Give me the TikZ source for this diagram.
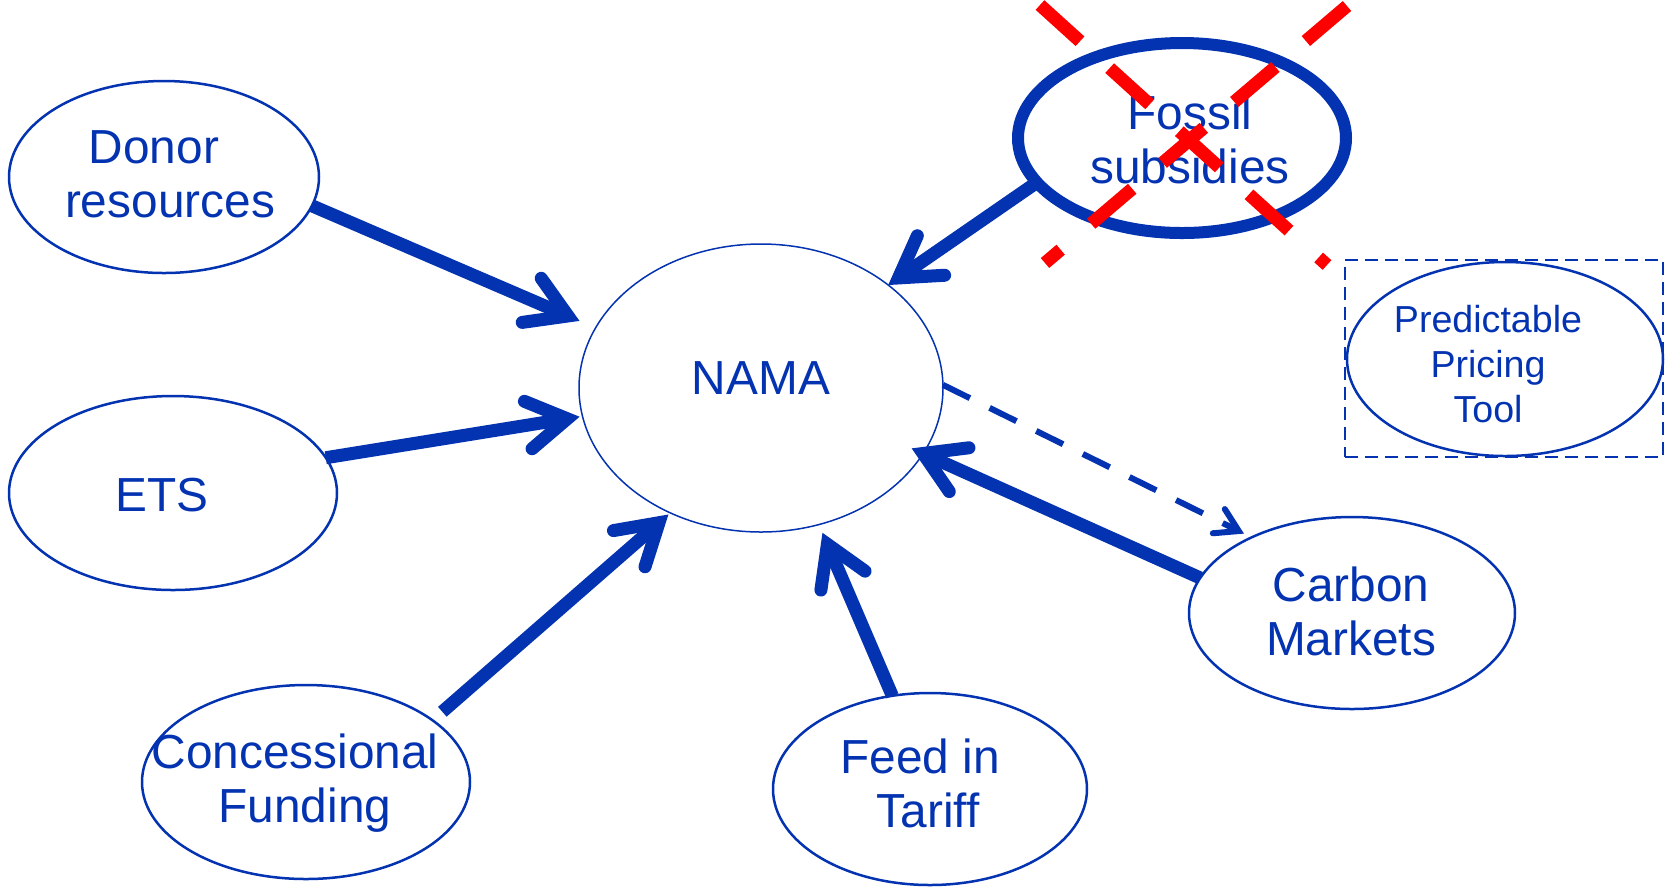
\documentclass[tikz,border=0pt]{standalone}
\usepackage{fontspec}
\setmainfont{Liberation Sans}
\usetikzlibrary{arrows.meta,shapes.geometric}
\definecolor{navy}{HTML}{0433B1}
\definecolor{cross}{HTML}{FF0000}

% open arrow heads with uniform thick barbs, rounded barb ends and a sharp tip
\pgfdeclarearrow{
  name = Bold Barb,
  parameters = {bold},
  setup code = {
    \pgfarrowssettipend{1.25mm}
    \pgfarrowssetlineend{-0.2mm}
    \pgfarrowssetbackend{-4.6mm}
  },
  drawing code = {
    \pgfsetdash{}{0pt}
    \pgfsetlinewidth{1.3mm}
    \pgfsetroundcap
    \pgfsetmiterjoin
    \pgfpathmoveto{\pgfpoint{-3.95mm}{2.4mm}}
    \pgfpathlineto{\pgfpointorigin}
    \pgfpathlineto{\pgfpoint{-3.95mm}{-2.4mm}}
    \pgfusepathqstroke
  }
}
\pgfdeclarearrow{
  name = Thin Barb,
  parameters = {thin},
  setup code = {
    \pgfarrowssettipend{0.57mm}
    \pgfarrowssetlineend{-0.1mm}
    \pgfarrowssetbackend{-2.55mm}
  },
  drawing code = {
    \pgfsetdash{}{0pt}
    \pgfsetlinewidth{0.6mm}
    \pgfsetroundcap
    \pgfsetmiterjoin
    \pgfpathmoveto{\pgfpoint{-2.23mm}{1.35mm}}
    \pgfpathlineto{\pgfpointorigin}
    \pgfpathlineto{\pgfpoint{-2.23mm}{-1.35mm}}
    \pgfusepathqstroke
  }
}

\begin{document}
\begin{tikzpicture}[x=0.1mm,y=-0.1mm,
  bubble/.style={draw=navy, line width=0.25mm, ellipse, inner sep=0pt, outer sep=0pt},
  lbl/.style={text=navy, align=center, inner sep=0pt, text depth=0pt,
    font=\fontsize{13.6pt}{15.4pt}\selectfont},
  small/.style={font=\fontsize{10.7pt}{12.8pt}\selectfont},
  push/.style={draw=navy, line width=1.3mm, -{Bold Barb}},
  hint/.style={draw=navy, line width=0.6mm, dash pattern=on 3mm off 2.2mm, -{Thin Barb}},
  strike/.style={draw=cross, line width=1.3mm, dash pattern=on 5.4mm off 4mm}
]
\useasboundingbox (0,0) rectangle (1666,890);

% ellipses
\node[bubble, minimum width=31mm, minimum height=19.2mm] (donor) at (164,177) {};
\node[bubble, minimum width=32.8mm, minimum height=19.4mm] (ets) at (173,493) {};
\node[bubble, minimum width=32.8mm, minimum height=19.4mm] (conc) at (306,782) {};
\node[bubble, minimum width=31.4mm, minimum height=19.2mm] (feed) at (930,789) {};
\node[bubble, minimum width=32.6mm, minimum height=19.2mm] (carbon) at (1352,613) {};
\node[bubble, line width=0.15mm, minimum width=36.4mm, minimum height=28.8mm] (nama) at (761,388) {};
\node[bubble, line width=1.2mm, minimum width=32.8mm, minimum height=19mm] (fossil) at (1182,138) {};
\node[bubble, minimum width=31.6mm, minimum height=19.4mm] (ppt) at (1505,359) {};
\node[draw=navy, line width=0.2mm, dash pattern=on 1.3mm off 0.7mm, inner sep=0pt,
  minimum width=31.8mm, minimum height=19.7mm] (pptbox) at (1504,358.5) {};

% connectors
\draw[push, shorten >=1.76mm] (donor.-11) -- (nama.160);
\draw[push, shorten >=0.3mm] (ets.13) -- (nama.189);
\draw[push, shorten <=1.3mm, shorten >=0.25mm] (conc.26) -- (nama.234);
\draw[push, shorten >=0.9mm] (feed.112) -- (nama.-67);
\draw[push, shorten >=-1.25mm] (carbon.167) -- (nama.-22);
\draw[push] (fossil.197) -- (nama.39);
\draw[hint, shorten >=0.86mm] (nama.1) -- (carbon.143);

% labels
\node[lbl] (donortext) at (170,174) {Donor\hspace*{3.2mm}\\resources};
\node[lbl] (etstext) at (162,495) {ETS};
\node[lbl] (conctext) at (305,778) {Concessional\hspace*{2mm}\\Funding};
\node[lbl] (feedtext) at (928,783) {Feed in\hspace*{1.6mm}\\Tariff};
\node[lbl] (carbontext) at (1351,611) {Carbon\\Markets};
\node[lbl] (namatext) at (761,378) {NAMA};
\node[lbl] (fossiltext) at (1190,139) {Fossil\\subsidies};
\node[lbl, small] (ppttext) at (1488,364) {Predictable\\Pricing\\Tool};

% red cross over the fossil subsidies
\draw[strike] (1040,5) -- (1327,265);
\draw[strike] (1347,6) -- (1045,263);
\end{tikzpicture}
\end{document}
